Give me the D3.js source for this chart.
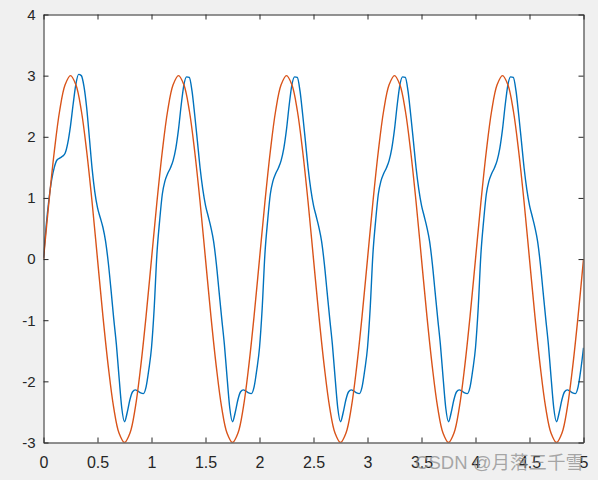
<!DOCTYPE html>
<html>
<head>
<meta charset="utf-8">
<style>
  body {
    margin: 0;
    background: #f0f0f0;
  }
  svg {
    display: block;
    font-family: "Liberation Sans", Arial, sans-serif;
  }
  .axis text {
    fill: #262626;
  }
  .xaxis text {
    font-size: 16px;
  }
  .yaxis text {
    font-size: 15px;
  }
  .axis path, .axis line {
    stroke: #262626;
  }
</style>
<script src="https://d3js.org/d3.v7.min.js"></script>
</head>
<body>
<svg id="chart" width="598" height="480"></svg>
<script>
// tick labels
var xTicks = [0, 0.5, 1, 1.5, 2, 2.5, 3, 3.5, 4, 4.5, 5];
var yTicks = [-3, -2, -1, 0, 1, 2, 3, 4];

// orange series, read every 0.05 from t = 0 to 5
var orangeStep = 0.05;
var orangeValues = [
  0, 0.93, 1.76, 2.43, 2.85, 3, 2.85, 2.43, 1.76, 0.93,
  0, -0.93, -1.76, -2.43, -2.85, -3, -2.85, -2.43, -1.76, -0.93,
  0, 0.93, 1.76, 2.43, 2.85, 3, 2.85, 2.43, 1.76, 0.93,
  0, -0.93, -1.76, -2.43, -2.85, -3, -2.85, -2.43, -1.76, -0.93,
  0, 0.93, 1.76, 2.43, 2.85, 3, 2.85, 2.43, 1.76, 0.93,
  0, -0.93, -1.76, -2.43, -2.85, -3, -2.85, -2.43, -1.76, -0.93,
  0, 0.93, 1.76, 2.43, 2.85, 3, 2.85, 2.43, 1.76, 0.93,
  0, -0.93, -1.76, -2.43, -2.85, -3, -2.85, -2.43, -1.76, -0.93,
  0, 0.93, 1.76, 2.43, 2.85, 3, 2.85, 2.43, 1.76, 0.93,
  0, -0.93, -1.76, -2.43, -2.85, -3, -2.85, -2.43, -1.76, -0.93,
  0
];

// blue series, read every 0.025 from t = 0 to 5 (one row per period)
var blueStep = 0.025;
var blueValues = [
  0.02, 0.55, 0.97, 1.29, 1.50, 1.62, 1.65, 1.68, 1.73, 1.90,
  2.18, 2.54, 2.86, 3.02, 3.00, 2.82, 2.47, 1.98, 1.48, 1.10,
  0.84, 0.68, 0.52, 0.29, -0.06, -0.50, -0.97, -1.40, -1.94, -2.44,
  -2.66, -2.51, -2.30, -2.17, -2.14, -2.16, -2.19, -2.20, -2.09, -1.81,

  -1.45, -0.80, 0.08, 0.62, 1.06, 1.28, 1.40, 1.49, 1.61, 1.81,
  2.12, 2.52, 2.85, 2.98, 2.97, 2.75, 2.36, 1.93, 1.49, 1.14,
  0.88, 0.70, 0.52, 0.29, -0.07, -0.52, -0.97, -1.40, -1.94, -2.44,
  -2.66, -2.51, -2.30, -2.17, -2.14, -2.16, -2.19, -2.20, -2.09, -1.81,

  -1.45, -0.80, 0.08, 0.62, 1.06, 1.28, 1.40, 1.49, 1.61, 1.81,
  2.12, 2.52, 2.85, 2.98, 2.97, 2.75, 2.36, 1.93, 1.49, 1.14,
  0.88, 0.70, 0.52, 0.29, -0.07, -0.52, -0.97, -1.40, -1.94, -2.44,
  -2.66, -2.51, -2.30, -2.17, -2.14, -2.16, -2.19, -2.20, -2.09, -1.81,

  -1.45, -0.80, 0.08, 0.62, 1.06, 1.28, 1.40, 1.49, 1.61, 1.81,
  2.12, 2.52, 2.85, 2.98, 2.97, 2.75, 2.36, 1.93, 1.49, 1.14,
  0.88, 0.70, 0.52, 0.29, -0.07, -0.52, -0.97, -1.40, -1.94, -2.44,
  -2.66, -2.51, -2.30, -2.17, -2.14, -2.16, -2.19, -2.20, -2.09, -1.81,

  -1.45, -0.80, 0.08, 0.62, 1.06, 1.28, 1.40, 1.49, 1.61, 1.81,
  2.12, 2.52, 2.85, 2.98, 2.97, 2.75, 2.36, 1.93, 1.49, 1.14,
  0.88, 0.70, 0.52, 0.29, -0.07, -0.52, -0.97, -1.40, -1.94, -2.44,
  -2.66, -2.51, -2.30, -2.17, -2.14, -2.16, -2.19, -2.20, -2.09, -1.81,

  -1.45
];

var watermark = "CSDN @月落三千雪";

var svg = d3.select("#chart"),
    margin = {top: 14.5, right: 14.5, bottom: 37.5, left: 43.5},
    width = 598 - margin.left - margin.right,
    height = 480 - margin.top - margin.bottom;

var x = d3.scaleLinear().domain([0, 5]).range([0, width]);
var y = d3.scaleLinear().domain([-3, 4]).range([height, 0]);

var g = svg.append("g")
    .attr("transform", "translate(" + margin.left + "," + margin.top + ")");

g.append("rect")
    .attr("width", width)
    .attr("height", height)
    .attr("fill", "#fff");

g.append("clipPath").attr("id", "clip")
  .append("rect")
    .attr("width", width)
    .attr("height", height);

function series(values, step) {
  return values.map(function(v, i) { return [i * step, v]; });
}

var line = d3.line()
    .x(function(d) { return x(d[0]); })
    .y(function(d) { return y(d[1]); })
    .curve(d3.curveMonotoneX);

var plot = g.append("g").attr("clip-path", "url(#clip)");

plot.append("path")
    .datum(series(blueValues, blueStep))
    .attr("d", line)
    .attr("fill", "none")
    .attr("stroke", "#0072bd")
    .attr("stroke-width", 1.4);

plot.append("path")
    .datum(series(orangeValues, orangeStep))
    .attr("d", line.curve(d3.curveCatmullRom))
    .attr("fill", "none")
    .attr("stroke", "#d95319")
    .attr("stroke-width", 1.4);

// axes, ticks pointing inside like matlab
var fmt = function(d) { return String(d); };

g.append("g")
    .attr("class", "axis xaxis")
    .attr("transform", "translate(0," + height + ")")
    .call(d3.axisBottom(x).tickValues(xTicks).tickFormat(fmt)
      .tickSizeInner(-5).tickSizeOuter(0).tickPadding(14));

g.append("g")
    .attr("class", "axis yaxis")
    .call(d3.axisLeft(y).tickValues(yTicks).tickFormat(fmt)
      .tickSizeInner(-5).tickSizeOuter(0).tickPadding(8));

g.append("g")
    .attr("class", "axis")
    .call(d3.axisTop(x).tickValues(xTicks).tickFormat("")
      .tickSizeInner(-5).tickSizeOuter(0));

g.append("g")
    .attr("class", "axis")
    .attr("transform", "translate(" + width + ",0)")
    .call(d3.axisRight(y).tickValues(yTicks).tickFormat("")
      .tickSizeInner(-5).tickSizeOuter(0));

svg.append("text")
    .attr("x", 584)
    .attr("y", 469)
    .attr("text-anchor", "end")
    .attr("font-family", "'Liberation Sans', 'Noto Sans CJK SC', sans-serif")
    .attr("font-size", 18.5)
    .attr("fill", "#8c8c8c")
    .attr("fill-opacity", 0.75)
    .text(watermark);
</script>
</body>
</html>
